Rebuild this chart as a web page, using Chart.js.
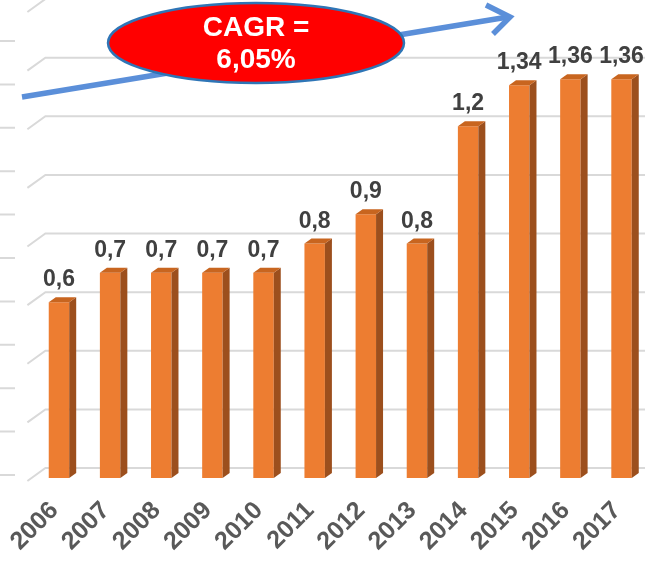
<!DOCTYPE html>
<html>
<head>
<meta charset="utf-8">
<script src="https://cdn.jsdelivr.net/npm/chart.js@4.4.1/dist/chart.umd.min.js"></script>
<style>
  html, body { margin: 0; padding: 0; background: #fff; overflow: hidden; }
  #wrap { width: 660px; height: 563px; position: relative; }
</style>
</head>
<body>
<div id="wrap"><canvas id="chart"></canvas></div>
<script>
const years = ['2006', '2007', '2008', '2009', '2010', '2011', '2012', '2013', '2014', '2015', '2016', '2017']
const values = [0.6, 0.7, 0.7, 0.7, 0.7, 0.8, 0.9, 0.8, 1.2, 1.34, 1.36, 1.36]
const valueLabels = values.map(v => String(v).replace('.', ','))
const cagrLines = ['CAGR =', '6,05%']

const frontColor = '#ED7D31'
const sideColor = '#9C4F1D'
const topColor = '#C8651F'
const gridColor = '#D9D9D9'
const font = 'Arial, "Liberation Sans", sans-serif'

// back wall grid lines, with the little diagonals of the 3D floor
const backWall = {
    id: 'backWall',
    beforeDatasetsDraw(chart) {
        const ctx = chart.ctx
        const y = chart.scales.y
        const area = chart.chartArea
        ctx.save()
        ctx.strokeStyle = gridColor
        ctx.lineWidth = 2
        y.ticks.forEach(t => {
            const yb = y.getPixelForValue(t.value) - 10
            ctx.beginPath()
            ctx.moveTo(area.left - 6, yb + 13)
            ctx.lineTo(area.left + 12, yb)
            ctx.lineTo(chart.width, yb)
            ctx.stroke()
        })
        // stubs of the side wall on the far left
        ctx.beginPath()
        for (let k = 0; k <= 10; k++) {
            const ys = area.bottom - 3 - k * 43.4
            ctx.moveTo(0, ys)
            ctx.lineTo(15, ys)
        }
        ctx.stroke()
        ctx.restore()
    }
}

// side and top faces of the columns + value labels
const columns3d = {
    id: 'columns3d',
    afterDatasetsDraw(chart) {
        const ctx = chart.ctx
        ctx.save()
        chart.getDatasetMeta(0).data.forEach((bar, i) => {
            const { x, y, base, width } = bar.getProps(['x', 'y', 'base', 'width'], true)
            const l = x - width / 2
            const r = x + width / 2
            const dx = 7, dy = 5
            ctx.fillStyle = sideColor
            ctx.beginPath()
            ctx.moveTo(r, y)
            ctx.lineTo(r + dx, y - dy)
            ctx.lineTo(r + dx, base - dy)
            ctx.lineTo(r, base)
            ctx.closePath()
            ctx.fill()
            ctx.fillStyle = topColor
            ctx.beginPath()
            ctx.moveTo(l, y)
            ctx.lineTo(l + dx, y - dy)
            ctx.lineTo(r + dx, y - dy)
            ctx.lineTo(r, y)
            ctx.closePath()
            ctx.fill()

            ctx.fillStyle = '#404040'
            ctx.font = 'bold 23px ' + font
            ctx.textAlign = 'center'
            ctx.textBaseline = 'alphabetic'
            ctx.fillText(valueLabels[i], x, y - 16)
        })
        ctx.restore()
    }
}

// CAGR arrow and bubble
const cagr = {
    id: 'cagr',
    afterDraw(chart) {
        const ctx = chart.ctx
        ctx.save()
        ctx.strokeStyle = '#5B8FD9'
        ctx.lineWidth = 5.5
        ctx.lineCap = 'butt'
        ctx.beginPath()
        ctx.moveTo(22, 97)
        ctx.lineTo(508, 17)
        ctx.stroke()
        ctx.lineJoin = 'miter'
        ctx.beginPath()
        ctx.moveTo(486, 5)
        ctx.lineTo(510, 17)
        ctx.lineTo(493, 34)
        ctx.stroke()

        ctx.beginPath()
        ctx.ellipse(256, 43, 148, 40, 0, 0, Math.PI * 2)
        ctx.fillStyle = '#FF0000'
        ctx.fill()
        ctx.lineWidth = 2.5
        ctx.strokeStyle = '#2E75B6'
        ctx.stroke()

        ctx.fillStyle = '#FFFFFF'
        ctx.font = 'bold 28px ' + font
        ctx.textAlign = 'center'
        ctx.textBaseline = 'middle'
        ctx.fillText(cagrLines[0], 256, 28)
        ctx.fillText(cagrLines[1], 256, 60)
        ctx.restore()
    }
}

const data = {
    labels: years,
    datasets: [
        {
            data: values,
            backgroundColor: frontColor,
            borderWidth: 0,
            barPercentage: 0.4,
            categoryPercentage: 1
        }
    ]
}

const config = {
    type: 'bar',
    data: data,
    plugins: [backWall, columns3d, cagr],
    options: {
        responsive: true,
        maintainAspectRatio: false,
        animation: false,
        layout: {
            padding: { left: 33.4, right: 12.9, top: 9, bottom: 0 }
        },
        scales: {
            x: {
                grid: { display: false, drawTicks: false },
                border: { display: false },
                ticks: {
                    color: '#595959',
                    font: { family: font, size: 25, weight: 'bold' },
                    minRotation: 45,
                    maxRotation: 45,
                    autoSkip: false,
                    padding: 18,
                    labelOffset: -4.5
                },
                afterFit: s => {
                    s.height = 85
                    s.paddingLeft = 0
                    s.paddingRight = 0
                }
            },
            y: {
                min: 0,
                max: 1.6,
                ticks: { display: false, stepSize: 0.2 },
                grid: { display: false },
                border: { display: false },
                afterFit: s => { s.width = 0 }
            }
        },
        plugins: {
            legend: { display: false },
            tooltip: { enabled: false }
        }
    }
}

const myChart = new Chart(document.getElementById('chart'), config)
</script>
</body>
</html>
